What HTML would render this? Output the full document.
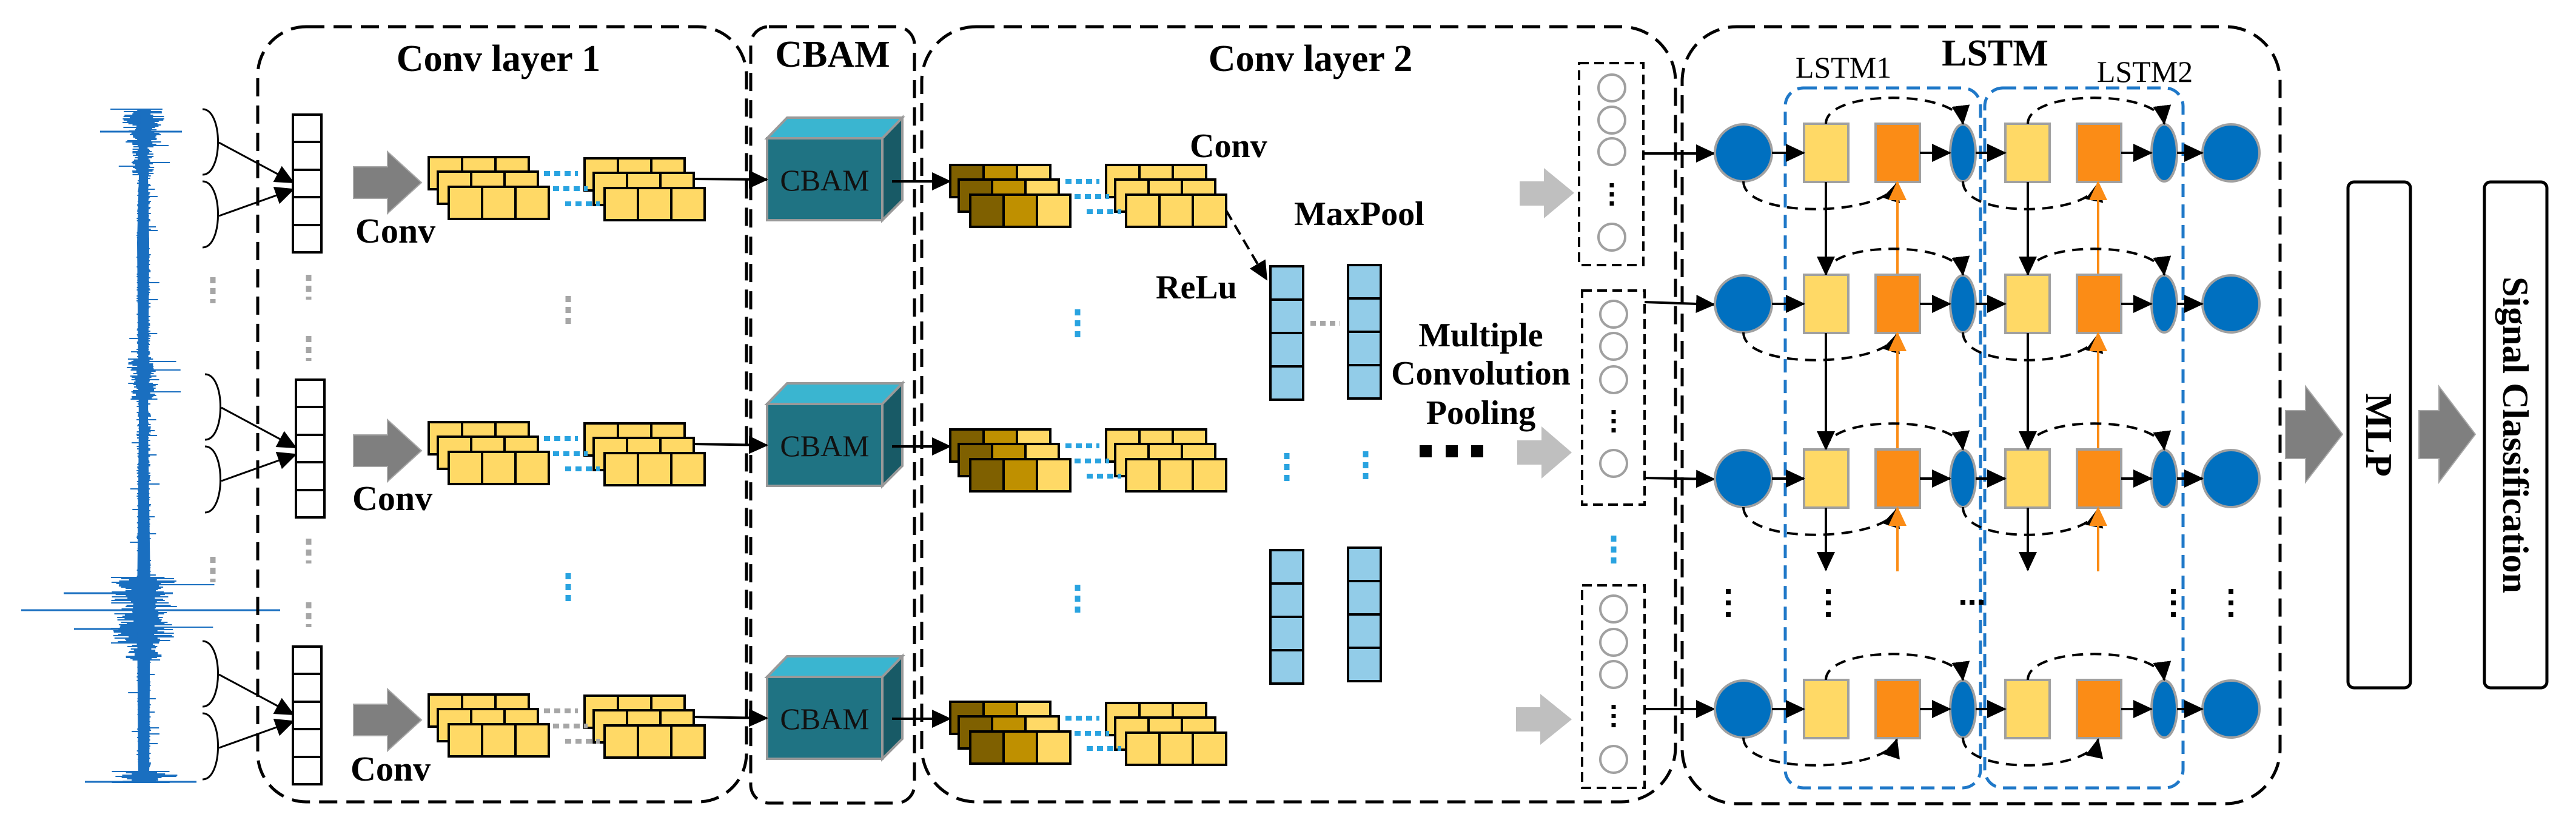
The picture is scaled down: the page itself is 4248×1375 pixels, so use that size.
<!DOCTYPE html>
<html><head><meta charset="utf-8"><style>
html,body{margin:0;padding:0;background:#fff}
svg{display:block}
text{font-family:"Liberation Serif",serif}
</style></head><body>
<svg id="s" width="4248" height="1375" viewBox="0 0 4248 1375" xmlns="http://www.w3.org/2000/svg">
<defs>
<marker id="a" viewBox="0 0 32 30" refX="30" refY="15" markerWidth="32" markerHeight="30" orient="auto" markerUnits="userSpaceOnUse"><path d="M0,0 L32,15 L0,30 z" fill="#000"/></marker>
<marker id="ao" viewBox="0 0 32 30" refX="30" refY="15" markerWidth="32" markerHeight="30" orient="auto" markerUnits="userSpaceOnUse"><path d="M0,0 L32,15 L0,30 z" fill="#fb8c16"/></marker>
<g id="ys" stroke="#000" stroke-width="4">
<rect x="0" y="0" width="165" height="53" fill="#ffd966"/><line x1="55" y1="0" x2="55" y2="53"/><line x1="110" y1="0" x2="110" y2="53"/>
<rect x="15" y="24" width="165" height="53" fill="#ffd966"/><line x1="70" y1="24" x2="70" y2="77"/><line x1="125" y1="24" x2="125" y2="77"/>
<rect x="33" y="49" width="165" height="53" fill="#ffd966"/><line x1="88" y1="49" x2="88" y2="102"/><line x1="143" y1="49" x2="143" y2="102"/>
</g>
<g id="ds" stroke="#000" stroke-width="4">
<rect x="0" y="0" width="55" height="53" fill="#7f6000"/><rect x="55" y="0" width="55" height="53" fill="#bf9000"/><rect x="110" y="0" width="55" height="53" fill="#ffd966"/>
<rect x="14" y="24" width="55" height="53" fill="#7f6000"/><rect x="69" y="24" width="55" height="53" fill="#bf9000"/><rect x="124" y="24" width="55" height="53" fill="#ffd966"/>
<rect x="33" y="49" width="55" height="53" fill="#7f6000"/><rect x="88" y="49" width="55" height="53" fill="#bf9000"/><rect x="143" y="49" width="55" height="53" fill="#ffd966"/>
</g>
<g id="bd" stroke="#29a3e0" stroke-width="8" stroke-dasharray="10,7">
<line x1="190" y1="27" x2="246" y2="27"/><line x1="205" y1="52" x2="262" y2="52"/><line x1="225" y1="77" x2="282" y2="77"/>
</g>
<g id="gd" stroke="#a6a6a6" stroke-width="8" stroke-dasharray="10,7">
<line x1="190" y1="27" x2="246" y2="27"/><line x1="205" y1="52" x2="262" y2="52"/><line x1="225" y1="77" x2="282" y2="77"/>
</g>
<g id="cube" stroke="#999" stroke-width="4">
<rect x="1265" y="228" width="190" height="135" fill="#1f7383"/>
<polygon points="1265,228 1298,194 1488,194 1455,228" fill="#3ab5d0"/>
<polygon points="1455,228 1488,194 1488,330 1455,363" fill="#185a66"/>
<text x="1360" y="314" font-size="50" text-anchor="middle" fill="#111" stroke="none">CBAM</text>
</g>
<g id="col" stroke="#000" stroke-width="4" fill="#fff">
<rect x="0" y="0" width="47" height="227"/><line x1="0" y1="45" x2="47" y2="45"/><line x1="0" y1="91" x2="47" y2="91"/><line x1="0" y1="136" x2="47" y2="136"/><line x1="0" y1="182" x2="47" y2="182"/>
</g>
<g id="bcol" stroke="#000" stroke-width="4" fill="#92cce8">
<rect x="0" y="0" width="54" height="55"/><rect x="0" y="55" width="54" height="55"/><rect x="0" y="110" width="54" height="55"/><rect x="0" y="165" width="54" height="55"/>
</g>
<g id="brace" fill="none" stroke="#000" stroke-width="3">
<path d="M334,0 C368,0 368,108 334,108"/><path d="M334,119 C368,119 368,228 334,228"/>
<line x1="361" y1="55" x2="484" y2="121" marker-end="url(#a)"/><line x1="361" y1="176" x2="484" y2="132" marker-end="url(#a)"/>
</g>
<polygon id="garr" points="0,25 56,25 56,0 112,51 56,102 56,77 0,77"/>
</defs>

<g id="wave" stroke="#1a6fc0" stroke-width="2"></g>
<path d="M232,180 L242,180 L246,400 L244,700 L248,960 L246,1290 L228,1290 L226,1000 L229,700 L226,400 z" fill="#1a6fc0"/>

<g fill="none" stroke="#000" stroke-width="5" stroke-dasharray="30,15">
<rect x="425" y="44" width="806" height="1278" rx="80"/>
<rect x="1238" y="44" width="270" height="1280" rx="30"/>
<rect x="1520" y="44" width="1243" height="1278" rx="90"/>
<rect x="2774" y="44" width="986" height="1281" rx="90"/>
</g>

<g font-weight="bold" text-anchor="middle" font-size="62" fill="#000">
<text x="822" y="117">Conv layer 1</text>
<text x="1373" y="110">CBAM</text>
<text x="2161" y="117">Conv layer 2</text>
<text x="3290" y="108">LSTM</text>
</g>
<g font-size="50" text-anchor="middle" fill="#000">
<text x="3040" y="128">LSTM1</text>
<text x="3537" y="135">LSTM2</text>
</g>

<g>
<use href="#brace" transform="translate(0,180)"/>
<use href="#brace" transform="translate(4,617)"/>
<use href="#brace" transform="translate(0,1057)"/>
<use href="#col" x="483" y="189"/><use href="#col" x="488" y="626"/><use href="#col" x="483" y="1066"/>
<g fill="#7f7f7f" stroke="#a6a6a6" stroke-width="2">
<use href="#garr" x="583" y="250"/><use href="#garr" x="583" y="692"/><use href="#garr" x="583" y="1136"/>
</g>
<g font-size="58" font-weight="bold" fill="#000">
<text x="586" y="400">Conv</text><text x="581" y="841">Conv</text><text x="578" y="1287">Conv</text>
</g>
<use href="#ys" x="707" y="259"/><use href="#ys" x="964" y="261"/><use href="#bd" x="707" y="259"/>
<use href="#ys" x="707" y="696"/><use href="#ys" x="964" y="698"/><use href="#bd" x="707" y="696"/>
<use href="#ys" x="707" y="1145"/><use href="#ys" x="964" y="1147"/><use href="#gd" x="707" y="1145"/>
<use href="#cube"/><use href="#cube" y="438"/><use href="#cube" y="888"/>
<g stroke="#000" stroke-width="4" marker-end="url(#a)">
<line x1="1142" y1="295" x2="1265" y2="296"/><line x1="1142" y1="732" x2="1265" y2="734"/><line x1="1142" y1="1182" x2="1265" y2="1184"/>
<line x1="1471" y1="299" x2="1567" y2="299"/><line x1="1471" y1="736" x2="1567" y2="736"/><line x1="1471" y1="1185" x2="1567" y2="1185"/>
</g>
<g stroke="#a6a6a6" stroke-width="9" stroke-dasharray="10,8">
<line x1="351" y1="457" x2="351" y2="500"/><line x1="351" y1="918" x2="351" y2="960"/>
<line x1="509" y1="453" x2="509" y2="494"/><line x1="509" y1="554" x2="509" y2="595"/>
<line x1="509" y1="888" x2="509" y2="929"/><line x1="509" y1="993" x2="509" y2="1034"/>
<line x1="937" y1="488" x2="937" y2="540"/>
</g>
<line x1="937" y1="945" x2="937" y2="998" stroke="#29a3e0" stroke-width="9" stroke-dasharray="10,8"/>
</g>

<g>
<use href="#ds" x="1567" y="272"/><use href="#ys" x="1824" y="272"/><use href="#bd" x="1567" y="272"/>
<use href="#ds" x="1567" y="708"/><use href="#ys" x="1824" y="708"/><use href="#bd" x="1567" y="708"/>
<use href="#ds" x="1567" y="1157"/><use href="#ys" x="1824" y="1159"/><use href="#bd" x="1567" y="1157"/>
<g font-size="56" font-weight="bold" fill="#000">
<text x="1962" y="259">Conv</text><text x="2134" y="371">MaxPool</text><text x="1906" y="492">ReLu</text>
</g>
<line x1="2022" y1="347" x2="2089" y2="461" stroke="#000" stroke-width="4" stroke-dasharray="18,10" marker-end="url(#a)"/>
<use href="#bcol" x="2095" y="439"/><use href="#bcol" x="2223" y="437"/>
<use href="#bcol" x="2095" y="907"/><use href="#bcol" x="2223" y="903"/>
<line x1="2161" y1="533" x2="2210" y2="533" stroke="#a6a6a6" stroke-width="8" stroke-dasharray="9,7"/>
<g stroke="#29a3e0" stroke-width="9" stroke-dasharray="10,8">
<line x1="2122" y1="747" x2="2122" y2="800"/><line x1="2252" y1="744" x2="2252" y2="797"/>
<line x1="1777" y1="510" x2="1777" y2="562"/><line x1="1777" y1="964" x2="1777" y2="1015"/>
<line x1="2661" y1="883" x2="2661" y2="935"/>
</g>
<g font-size="56" font-weight="bold" fill="#000" text-anchor="middle">
<text x="2442" y="571">Multiple</text><text x="2442" y="634">Convolution</text><text x="2442" y="699">Pooling</text>
</g>
<g fill="#000"><rect x="2341" y="734" width="20" height="20"/><rect x="2384" y="734" width="20" height="20"/><rect x="2426" y="734" width="20" height="20"/></g>
<g fill="#bfbfbf">
<polygon points="2506,299 2546,299 2546,277 2596,318 2546,360 2546,339 2506,339"/>
<polygon points="2502,726 2542,726 2542,703 2592,746 2542,789 2542,766 2502,766"/>
<polygon points="2500,1166 2540,1166 2540,1144 2592,1186 2540,1228 2540,1206 2500,1206"/>
</g>
<g fill="none" stroke="#000" stroke-width="4" stroke-dasharray="16,9">
<rect x="2604" y="104" width="106" height="333"/>
<rect x="2609" y="479" width="103" height="353"/>
<rect x="2609" y="965" width="103" height="334"/>
</g>
<g fill="#fff" stroke="#a0a0a0" stroke-width="4">
<circle cx="2658" cy="145" r="22"/><circle cx="2658" cy="198" r="22"/><circle cx="2658" cy="250" r="22"/><circle cx="2658" cy="391" r="22"/>
<circle cx="2661" cy="518" r="22"/><circle cx="2661" cy="571" r="22"/><circle cx="2661" cy="626" r="22"/><circle cx="2661" cy="764" r="22"/>
<circle cx="2661" cy="1004" r="22"/><circle cx="2661" cy="1059" r="22"/><circle cx="2661" cy="1112" r="22"/><circle cx="2661" cy="1252" r="22"/>
</g>
<g stroke="#000" stroke-width="7" stroke-dasharray="7,8">
<line x1="2658" y1="302" x2="2658" y2="345"/><line x1="2661" y1="676" x2="2661" y2="719"/><line x1="2661" y1="1162" x2="2661" y2="1205"/>
</g>
<g stroke="#000" stroke-width="4" marker-end="url(#a)">
<line x1="2710" y1="253" x2="2827" y2="253"/><line x1="2712" y1="498" x2="2827" y2="502"/><line x1="2712" y1="788" x2="2827" y2="790"/><line x1="2712" y1="1169" x2="2827" y2="1169"/>
</g>
</g>

<g fill="none" stroke="#1f78c8" stroke-width="5" stroke-dasharray="22,12">
<rect x="2944" y="145" width="322" height="1154" rx="30"/>
<rect x="3273" y="145" width="327" height="1154" rx="30"/>
</g>
<g id="lstm"></g>

<g fill="#7f7f7f" stroke="#a6a6a6" stroke-width="2">
<polygon points="3769,677 3802,677 3802,637 3863,716 3802,795 3802,756 3769,756"/>
<polygon points="3989,677 4022,677 4022,637 4082,716 4022,795 4022,756 3989,756"/>
</g>
<g fill="#fff" stroke="#000" stroke-width="5">
<rect x="3872" y="300" width="103" height="834" rx="10"/>
<rect x="4097" y="300" width="103" height="834" rx="10"/>
</g>
<text transform="translate(3902,717) rotate(90)" font-size="62" font-weight="bold" text-anchor="middle">MLP</text>
<text transform="translate(4128,717) rotate(90)" font-size="60" font-weight="bold" text-anchor="middle">Signal Classification</text>

<script>
(function(){
var ns="http://www.w3.org/2000/svg";
function el(p,t,a){var e=document.createElementNS(ns,t);for(var k in a)e.setAttribute(k,a[k]);p.appendChild(e);return e;}
var L=document.getElementById('lstm');
var rows=[252,501,789,1169];
rows.forEach(function(cy,i){
 var bl={stroke:"#000","stroke-width":4,"marker-end":"url(#a)"};
 el(L,"circle",{cx:2875,cy:cy,r:47,fill:"#0070c0",stroke:"#a0a0a0","stroke-width":4});
 el(L,"circle",{cx:3679,cy:cy,r:47,fill:"#0070c0",stroke:"#a0a0a0","stroke-width":4});
 [[2975,"#ffd966"],[3093,"#fb8c16"],[3307,"#ffd966"],[3425,"#fb8c16"]].forEach(function(r){
  el(L,"rect",{x:r[0],y:cy-48,width:73,height:96,fill:r[1],stroke:"#a0a0a0","stroke-width":4});});
 el(L,"ellipse",{cx:3237,cy:cy,rx:21,ry:47,fill:"#0070c0",stroke:"#a0a0a0","stroke-width":4});
 el(L,"ellipse",{cx:3569,cy:cy,rx:21,ry:47,fill:"#0070c0",stroke:"#a0a0a0","stroke-width":4});
 [[2922,2975],[3166,3216],[3258,3307],[3498,3548],[3590,3632]].forEach(function(s){
  el(L,"line",Object.assign({x1:s[0],y1:cy,x2:s[1],y2:cy},bl));});
 var d={fill:"none",stroke:"#000","stroke-width":4,"stroke-dasharray":"18,12","marker-end":"url(#a)"};
 el(L,"path",Object.assign({d:"M3011,"+(cy-48)+" C3011,"+(cy-105)+" 3230,"+(cy-105)+" 3237,"+(cy-48)},d));
 el(L,"path",Object.assign({d:"M3344,"+(cy-48)+" C3344,"+(cy-105)+" 3562,"+(cy-105)+" 3569,"+(cy-48)},d));
 el(L,"path",Object.assign({d:"M2875,"+(cy+47)+" C2875,"+(cy+110)+" 3110,"+(cy+105)+" 3128,"+(cy+50)},d));
 el(L,"path",Object.assign({d:"M3237,"+(cy+47)+" C3237,"+(cy+110)+" 3448,"+(cy+105)+" 3460,"+(cy+50)},d));
 if(i<2){var ny=rows[i+1];
  el(L,"line",Object.assign({x1:3011,y1:cy+48,x2:3011,y2:ny-48},bl));
  el(L,"line",Object.assign({x1:3344,y1:cy+48,x2:3344,y2:ny-48},bl));
  el(L,"line",{x1:3129,y1:ny-48,x2:3129,y2:cy+48,stroke:"#fb8c16","stroke-width":4,"marker-end":"url(#ao)"});
  el(L,"line",{x1:3460,y1:ny-48,x2:3460,y2:cy+48,stroke:"#fb8c16","stroke-width":4,"marker-end":"url(#ao)"});
 }
 if(i==2){
  el(L,"line",Object.assign({x1:3011,y1:cy+48,x2:3011,y2:940},bl));
  el(L,"line",Object.assign({x1:3344,y1:cy+48,x2:3344,y2:940},bl));
  el(L,"line",{x1:3129,y1:942,x2:3129,y2:cy+48,stroke:"#fb8c16","stroke-width":4,"marker-end":"url(#ao)"});
  el(L,"line",{x1:3460,y1:942,x2:3460,y2:cy+48,stroke:"#fb8c16","stroke-width":4,"marker-end":"url(#ao)"});
 }
});
[2850,3015,3584,3679].forEach(function(x){[975,994,1013].forEach(function(y){el(L,"rect",{x:x-4,y:y-4,width:8,height:8,fill:"#000"});});});
[3237,3252,3267].forEach(function(x){el(L,"rect",{x:x-4,y:989,width:8,height:8,fill:"#000"});});
var W=document.getElementById('wave');var s=12345;function r(){s=(s*16807)%2147483647;return s/2147483647;}
function amp(y){var a=12;if(y<240)a=35;else if(y<290)a=20;if(y>590&&y<660)a=28;if(y>950&&y<1070)a=55;if(y>1060&&y<1090)a=30;if(y>1270)a=60;return a;}
for(var y=180;y<=1290;y+=2){var a=amp(y);var l=237-a*(0.3+0.7*r()),rr=237+a*(0.3+0.7*r());
 if(r()<0.04)rr+=a*1.2;if(r()<0.04)l-=a*1.2;
 el(W,"line",{x1:l.toFixed(1),y1:y,x2:rr.toFixed(1),y2:y});}
el(W,"line",{x1:35,y1:1006,x2:462,y2:1006,"stroke-width":3});
el(W,"line",{x1:105,y1:978,x2:285,y2:978,"stroke-width":3});
el(W,"line",{x1:122,y1:1037,x2:255,y2:1037,"stroke-width":3});
el(W,"line",{x1:165,y1:217,x2:300,y2:217,"stroke-width":3});
el(W,"line",{x1:140,y1:1289,x2:324,y2:1289,"stroke-width":3});
})();
</script>
</svg>
</body></html>
